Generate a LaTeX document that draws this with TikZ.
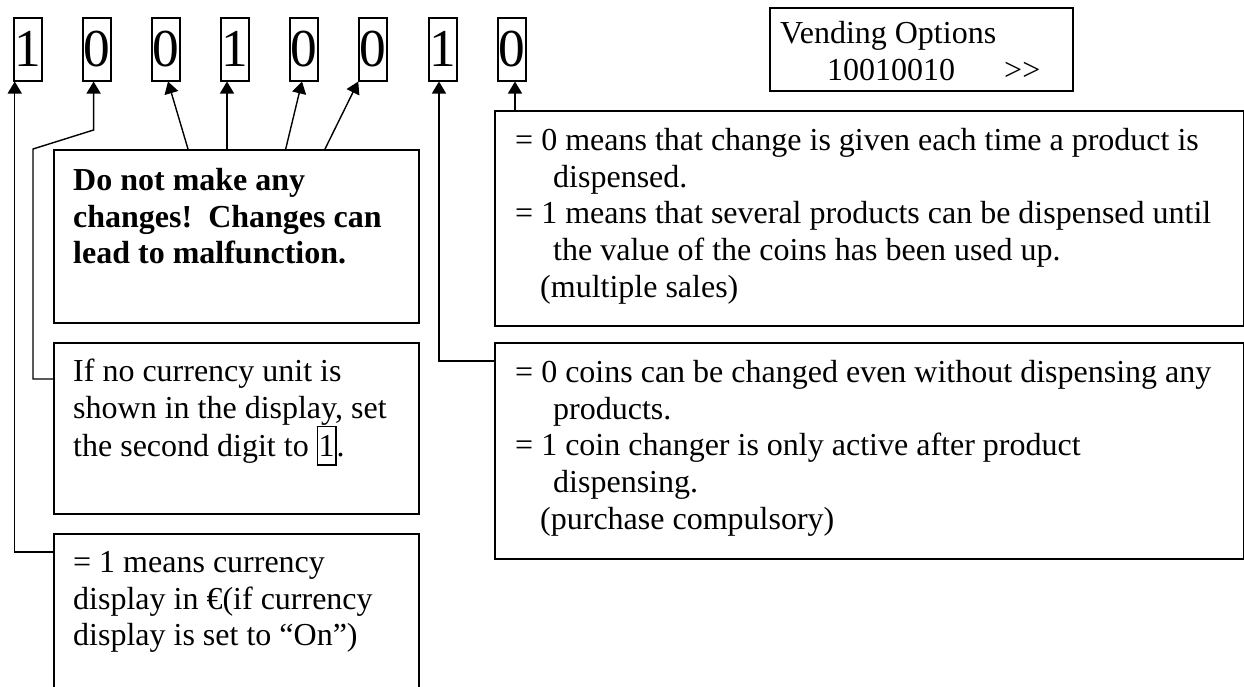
\documentclass[tikz,border=0pt]{standalone}
\usepackage{fontspec}
\setmainfont{Liberation Serif}
\usetikzlibrary{arrows.meta,calc}
\newcommand\digbox[1]{{\setlength\fboxsep{0pt}\setlength\fboxrule{1.3pt}\fbox{\vrule height 29pt depth 8pt width 0pt\kern0.6pt#1\kern0.6pt}}}
\begin{document}
\begin{tikzpicture}[x=1pt,y=-1pt,
  box/.style={draw, line width=1.5pt, rectangle, inner sep=0pt, anchor=north west},
  dig/.style={draw, line width=1.5pt, rectangle, inner sep=0pt, minimum width=28pt, minimum height=63pt, anchor=north, font=\fontsize{53.3}{61}\selectfont},
  txt/.style={anchor=north west, inner sep=0pt, align=left, font=\fontsize{32}{36.8}\selectfont},
  arr/.style={line width=1.4pt, -{Triangle[length=12pt,width=14pt]}}]
\fill[white] (0,0) rectangle (1244,686);
\useasboundingbox (0,0) rectangle (1244,686);
% digit boxes
\node[dig] (d1) at (28,17) {1};
\node[dig] (d2) at (97,17) {0};
\node[dig] (d3) at (166,17) {0};
\node[dig] (d4) at (235,17) {1};
\node[dig] (d5) at (304,17) {0};
\node[dig] (d6) at (373,17) {0};
\node[dig] (d7) at (443,17) {1};
\node[dig] (d8) at (512,17) {0};
% display box
\node[box, minimum width=303pt, minimum height=83pt] (vend) at (769,7) {};
\node[txt] (vendT) at (780,17.24) {\strut Vending Options\\\hspace*{47pt}10010010\hspace{49pt}>\kern0pt>};
% left boxes
\node[box, minimum width=365pt, minimum height=173pt] (dn) at (53,149) {};
\node[txt, font=\fontsize{32}{36.8}\selectfont\bfseries] (dnT) at (73,164.24) {\strut Do not make any\\changes!\ \ Changes can\\lead to malfunction.};
\node[box, minimum width=365pt, minimum height=171pt] (ifno) at (53,342) {};
\node[txt] (ifnoT) at (73,355.24) {\strut If no currency unit is\\shown in the display, set\\the second digit to \digbox{1}.};
\node[box, minimum width=365pt, minimum height=154pt] (cur) at (53,533) {};
\node[txt] (curT) at (73,546.24) {\strut = 1 means currency\\display in €(if currency\\display is set to “On”)};
% right boxes
\node[box, minimum width=749pt, minimum height=215pt] (r1) at (494,110) {};
\node[txt] (r1T) at (515,124.24) {\strut = 0 means that change is given each time a product is\\\hspace*{38pt}dispensed.\\= 1 means that several products can be dispensed until\\\hspace*{38pt}the value of the coins has been used up.\\\hspace*{25pt}(multiple sales)};
\node[box, minimum width=749pt, minimum height=216pt] (r2) at (494,342) {};
\node[txt] (r2T) at (515,356.24) {\strut = 0 coins can be changed even without dispensing any\\\hspace*{38pt}products.\\= 1 coin changer is only active after product\\\hspace*{38pt}dispensing.\\\hspace*{25pt}(purchase compulsory)};
% connectors
\draw[arr] ($(cur.north west)+(0,19)$) -| ($(d1.south west)+(1.5,0)$);
\draw[arr] ($(ifno.north west)+(0,37)$) -- ++(-20,0) -- ++(0,-230) -- ++(60.6,-19) -- ($(d2.south)+(-3.4,0)$);
\draw[arr] ($(dn.north west)+(135,0)$) -- ($(d3.south)+(2,0)$);
\draw[arr] ($(dn.north west)+(174,0)$) -- ($(d4.south)+(-8,0)$);
\draw[arr] ($(dn.north west)+(232.7,0)$) -- ($(d5.south)+(-2,0)$);
\draw[arr] ($(dn.north west)+(272,0)$) -- (d6.south west);
\draw[arr] ($(r2.north west)+(0,19)$) -| ($(d7.south)+(-4,0)$);
\draw[arr] ($(r1.north west)+(21,0)$) -- ($(d8.south)+(3,0)$);
\end{tikzpicture}
\end{document}
